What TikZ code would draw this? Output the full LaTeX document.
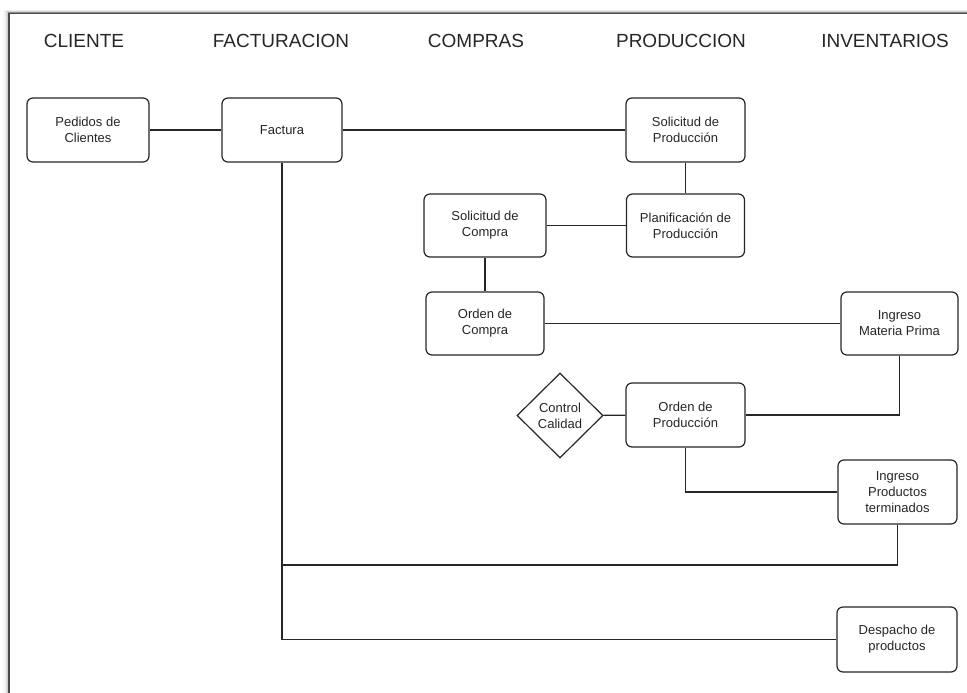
\documentclass[tikz,border=0pt]{standalone}
\usepackage{fontspec}
\setmainfont{Liberation Sans}
\usetikzlibrary{shapes.geometric}
\definecolor{ink}{HTML}{262626}
\definecolor{frame}{HTML}{4A4A4A}
\tikzset{
  x=1pt, y=-1pt,
  box/.style={draw=ink, line width=1.2pt, rounded corners=6pt, fill=white,
    align=center, inner sep=0pt, font=\fontsize{13}{16}\selectfont, text=ink},
  dia/.style={draw=ink, line width=1.2pt, diamond, fill=white, align=center,
    inner sep=0pt, minimum width=86pt, minimum height=85pt,
    font=\fontsize{13}{16}\selectfont, text=ink},
  head/.style={font=\fontsize{19}{22}\selectfont, text=ink, anchor=base},
  link/.style={draw=ink, line width=1.2pt},
}
\begin{document}
\begin{tikzpicture}
\useasboundingbox (0,0) rectangle (967,693);
% frame shadow
\foreach \d/\o in {1/0.30,2/0.20,3/0.12,4/0.07,5/0.04,6/0.02}{
  \draw[black, opacity=\o, line width=1pt] (9-\d,693) -- (9-\d,13.5-\d*0.5) -- (967,13.5-\d*0.5);
}
\draw[frame, line width=1.6pt] (9,693) -- (9,13.5) -- (967,13.5);

% headers
\node[head] (hcli) at (84,48) {CLIENTE};
\node[head] (hfac) at (281,48) {FACTURACION};
\node[head] (hcom) at (476,48) {COMPRAS};
\node[head] (hpro) at (681,48) {PRODUCCION};
\node[head] (hinv) at (885,48) {INVENTARIOS};

% nodes
\node[box, minimum width=122pt, minimum height=64pt] (ped) at (88,130) {Pedidos de\\Clientes};
\node[box, minimum width=120pt, minimum height=64pt] (fac) at (282,130) {Factura};
\node[box, minimum width=119pt, minimum height=64pt] (solp) at (685.5,130) {Solicitud de\\Producción};
\node[box, minimum width=118pt, minimum height=63pt] (plan) at (685.5,225.5) {Planificación de\\Producción};
\node[box, minimum width=122pt, minimum height=63pt] (solc) at (485,225.5) {Solicitud de\\Compra};
\node[box, minimum width=118pt, minimum height=63pt] (ordc) at (485,323.5) {Orden de\\Compra};
\node[box, minimum width=117pt, minimum height=63pt] (imp) at (899.5,323.5) {Ingreso\\Materia Prima};
\node[dia] (cc) at (560,415.5) {Control\\Calidad};
\node[box, minimum width=119pt, minimum height=64pt] (ordp) at (685.5,415) {Orden de\\Producción};
\node[box, minimum width=119pt, minimum height=64pt] (ipt) at (897.5,492) {Ingreso\\Productos\\terminados};
\node[box, minimum width=120pt, minimum height=65pt] (desp) at (897,639.5) {Despacho de\\productos};

\coordinate (j) at (282,565);

% connectors
\draw[link] (ped) -- (fac);
\draw[link] (fac) -- (solp);
\draw[link] (solp) -- (plan);
\draw[link] (plan) -- (solc);
\draw[link] (solc) -- (ordc);
\draw[link] (ordc) -- (imp);
\draw[link] (imp.south) |- (ordp.east);
\draw[link] (cc) -- (ordp);
\draw[link] (ordp.south) |- (ipt.west);
\draw[link] (ipt.south) |- (j);
\draw[link] (fac.south) |- (desp.west);
\end{tikzpicture}
\end{document}
